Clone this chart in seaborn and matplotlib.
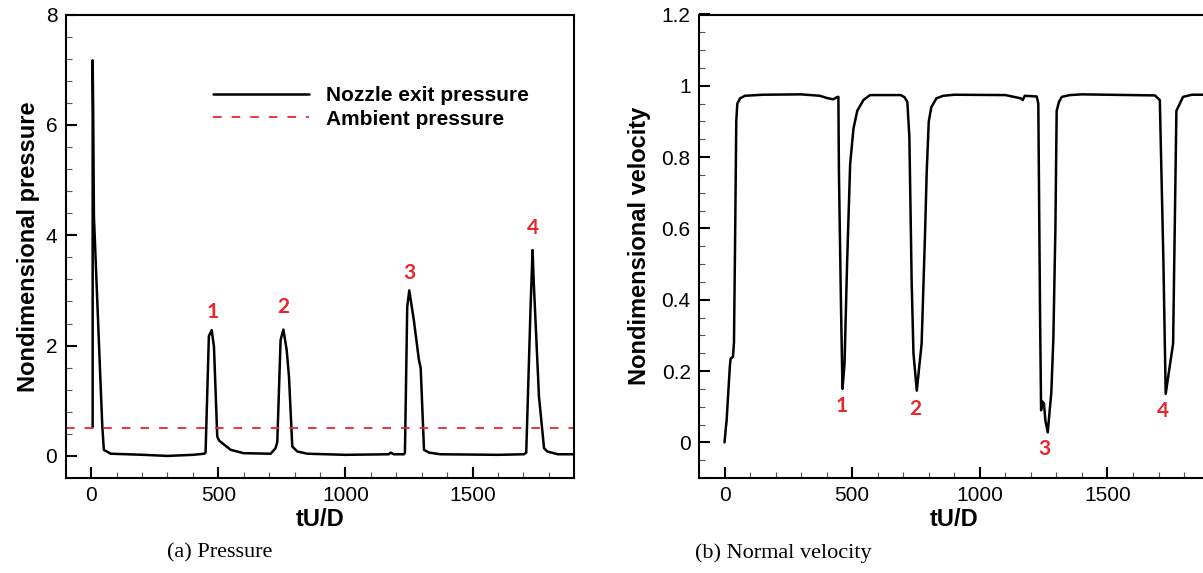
import numpy as np
import pandas as pd
import matplotlib
matplotlib.use("Agg")
import matplotlib.pyplot as plt
from matplotlib.ticker import MultipleLocator, FormatStrFormatter
import seaborn as sns

# (a) nozzle exit pressure vs tU/D
t_p = [6, 6, 8, 11, 24, 37, 44, 50, 77, 206, 300, 400, 445,
       450, 463, 474, 483, 496, 503, 516, 549, 600, 706,
       725, 732, 745, 756, 769, 778, 791, 811, 850, 1000, 1170, 1178, 1190, 1230,
       1234, 1243, 1251, 1269, 1289, 1296, 1309, 1329, 1374, 1600, 1702,
       1711, 1728, 1736, 1740, 1761, 1781, 1794, 1835, 1900]
p_exit = [0.52, 7.17, 6.3, 4.34, 2.83, 1.32, 0.53, 0.11, 0.04, 0.02, 0.0, 0.02, 0.04,
          0.06, 2.17, 2.28, 1.98, 0.35, 0.28, 0.23, 0.11, 0.05, 0.04,
          0.14, 0.25, 2.1, 2.29, 1.92, 1.44, 0.17, 0.08, 0.04, 0.02, 0.03, 0.06, 0.03, 0.03,
          0.06, 2.7, 3.0, 2.46, 1.74, 1.59, 0.11, 0.06, 0.03, 0.02, 0.03,
          0.06, 2.7, 3.73, 3.2, 1.08, 0.14, 0.08, 0.03, 0.03]
p_ambient = 0.5
peak_t = [479, 756, 1251, 1736]
peak_p = [2.61, 2.70, 3.31, 4.13]

# (b) normal velocity vs tU/D
t_v = [0, 5, 8, 21, 24, 33, 37, 41, 46, 50, 61, 80, 150, 300, 374, 400, 426, 440, 446,
       448, 456, 462, 470, 480, 492, 505, 520, 544, 570, 690, 705, 716,
       724, 733, 740, 753, 772, 785, 792, 800, 810, 830, 857, 900, 1100, 1160, 1168,
       1176, 1223, 1229, 1236, 1240, 1243, 1251, 1257, 1266, 1280, 1288, 1296, 1301,
       1310, 1321, 1353, 1400, 1686, 1705, 1719, 1728, 1757, 1770, 1796, 1831, 1900]
v_norm = [0.0, 0.04, 0.06, 0.215, 0.235, 0.24, 0.28, 0.54, 0.90, 0.95, 0.965, 0.972, 0.975, 0.976, 0.972, 0.966, 0.962, 0.968, 0.969,
          0.76, 0.39, 0.15, 0.22, 0.50, 0.78, 0.88, 0.93, 0.96, 0.974, 0.974, 0.968, 0.955,
          0.857, 0.45, 0.25, 0.145, 0.277, 0.576, 0.76, 0.90, 0.94, 0.965, 0.972, 0.975, 0.974, 0.965, 0.96,
          0.972, 0.970, 0.95, 0.35, 0.09, 0.115, 0.11, 0.06, 0.028, 0.14, 0.29, 0.6, 0.93,
          0.955, 0.969, 0.974, 0.976, 0.973, 0.96, 0.51, 0.136, 0.277, 0.93, 0.969, 0.975, 0.975]
dip_t = [459, 749, 1252, 1719]
dip_v = [0.103, 0.094, -0.019, 0.087]
labels = ["1", "2", "3", "4"]

df_p = pd.DataFrame({"t": t_p, "p": p_exit})
df_v = pd.DataFrame({"t": t_v, "v": v_norm})

sns.set_style("ticks")
plt.rcParams["font.family"] = ["Liberation Sans", "DejaVu Sans"]
plt.rcParams["lines.scale_dashes"] = False
for k in ["text.color", "axes.labelcolor", "xtick.color", "ytick.color", "axes.edgecolor"]:
    plt.rcParams[k] = "black"
red = "#e8262b"

W, H = 1203, 573
fig = plt.figure(figsize=(W / 100, H / 100), dpi=100)
ax1 = fig.add_axes([65.7 / W, (H - 478) / H, 508.6 / W, 463.5 / H])
ax2 = fig.add_axes([699 / W, (H - 478) / H, 510.6 / W, 463.5 / H])

sns.lineplot(data=df_p, x="t", y="p", ax=ax1, color="black", lw=1.8,
             sort=False, estimator=None, label="Nozzle exit pressure")
ax1.axhline(p_ambient, color=red, lw=1.3, dashes=(6.2, 7.2), label="Ambient pressure")
ax1.set_xlim(-100, 1900)
ax1.set_ylim(-0.4, 8)
ax1.xaxis.set_major_locator(MultipleLocator(500))
ax1.xaxis.set_minor_locator(MultipleLocator(100))
ax1.yaxis.set_major_locator(MultipleLocator(2))
ax1.yaxis.set_minor_locator(MultipleLocator(0.4))
for t, p, s in zip(peak_t, peak_p, labels):
    ax1.text(t, p, s, color=red, fontsize=15, fontweight="bold", family="Lato",
             ha="center", va="center")
leg = ax1.legend(loc="upper left", bbox_to_anchor=(0.29, 0.845), frameon=False,
                 borderpad=0, borderaxespad=0, handlelength=4.6, handletextpad=0.8,
                 labelspacing=0.2, prop={"weight": "bold", "size": 15})
for txt in leg.get_texts():
    txt.set_color("black")

sns.lineplot(data=df_v, x="t", y="v", ax=ax2, color="black", lw=1.8,
             sort=False, estimator=None)
ax2.set_xlim(-100, 1900)
ax2.set_ylim(-0.1, 1.2)
ax2.xaxis.set_major_locator(MultipleLocator(500))
ax2.xaxis.set_minor_locator(MultipleLocator(100))
ax2.yaxis.set_major_locator(MultipleLocator(0.2))
ax2.yaxis.set_minor_locator(MultipleLocator(0.05))
ax2.yaxis.set_major_formatter(FormatStrFormatter("%g"))
for t, v, s in zip(dip_t, dip_v, labels):
    ax2.text(t, v, s, color=red, fontsize=15, fontweight="bold", family="Lato",
             ha="center", va="center")

for ax, yl, xpos in [(ax1, "Nondimensional pressure", -0.0741),
                     (ax2, "Nondimensional velocity", -0.1156)]:
    for sp in ax.spines.values():
        sp.set_linewidth(1.5)
        sp.set_visible(True)
        sp.set_color("black")
    ax.tick_params(which="major", direction="in", length=8, width=1.5, labelsize=15,
                   top=False, right=False, pad=6)
    ax.tick_params(which="minor", direction="in", length=4.5, width=0.8, color="#555555",
                   top=False, right=False)
    ax.set_xlabel("tU/D", fontsize=17, fontweight="bold", labelpad=2)
    ax.set_ylabel(yl, fontsize=17, fontweight="bold", va="center")
    ax.yaxis.set_label_coords(xpos, 0.5)

fig.text(220 / W, 1 - 553 / H, "(a) Pressure", family="Liberation Serif", fontsize=16,
         ha="center", va="center")
fig.text(783 / W, 1 - 553 / H, "(b) Normal velocity", family="Liberation Serif", fontsize=16,
         ha="center", va="center")

fig.savefig("out.png", dpi=100)
